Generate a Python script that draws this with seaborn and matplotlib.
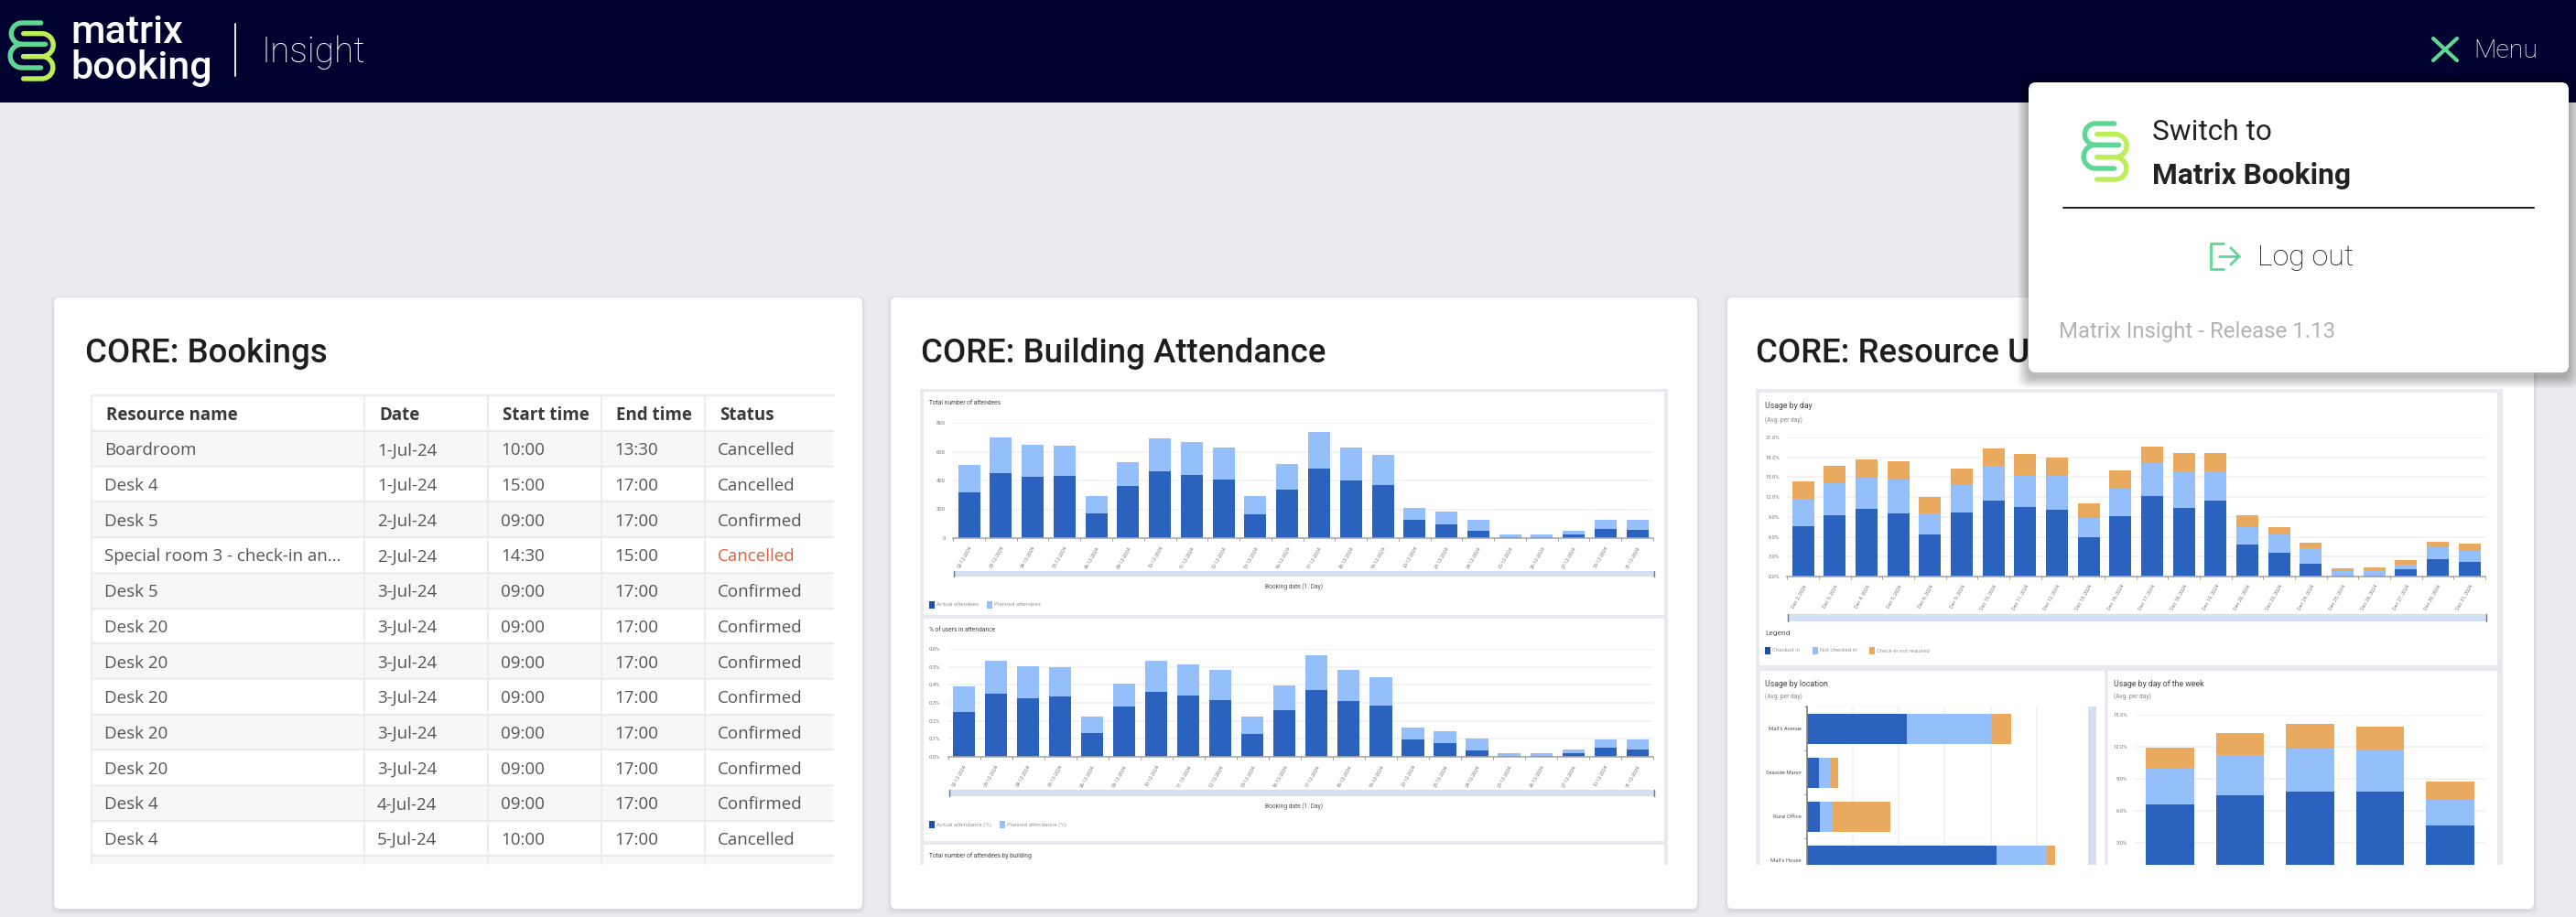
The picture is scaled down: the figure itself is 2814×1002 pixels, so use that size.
import numpy as np
import matplotlib
matplotlib.use("Agg")
import matplotlib.pyplot as plt
import seaborn as sns
from matplotlib.patches import FancyBboxPatch, Rectangle

W, H = 2814, 1002

# Table data
table_columns = ["Resource name", "Date", "Start time", "End time", "Status"]
resource_names = ["Boardroom", "Desk 4", "Desk 5", "Special room 3 - check-in an...", "Desk 5", "Desk 20",
                  "Desk 20", "Desk 20", "Desk 20", "Desk 20", "Desk 4", "Desk 4"]
booking_dates = ["1-Jul-24", "1-Jul-24", "2-Jul-24", "2-Jul-24", "3-Jul-24", "3-Jul-24",
                 "3-Jul-24", "3-Jul-24", "3-Jul-24", "3-Jul-24", "4-Jul-24", "5-Jul-24"]
start_times = ["10:00", "15:00", "09:00", "14:30", "09:00", "09:00", "09:00", "09:00", "09:00", "09:00", "09:00", "10:00"]
end_times = ["13:30", "17:00", "17:00", "15:00", "17:00", "17:00", "17:00", "17:00", "17:00", "17:00", "17:00", "17:00"]
statuses = ["Cancelled", "Cancelled", "Confirmed", "Cancelled", "Confirmed", "Confirmed",
            "Confirmed", "Confirmed", "Confirmed", "Confirmed", "Confirmed", "Cancelled"]

# Shared day labels
day_numbers = [2, 3, 4, 5, 6, 9, 10, 11, 12, 13, 16, 17, 18, 19, 20, 23, 24, 25, 26, 27, 30, 31]
dates_numeric = [f"{d:02d}-12-2024" for d in day_numbers]
dates_long = [f"Dec {d}, 2024" for d in day_numbers]

# Total number of attendees
actual_attendees = [320, 452, 424, 431, 172, 363, 465, 439, 407, 168, 335, 484, 403, 371, 127, 98, 51, 6, 6, 25, 66, 55]
planned_attendees = [185, 244, 225, 212, 121, 163, 227, 225, 219, 125, 181, 250, 223, 204, 85, 84, 78, 22, 22, 28, 61, 72]

# % of users in attendance
actual_pct = [0.248, 0.350, 0.326, 0.334, 0.132, 0.280, 0.362, 0.340, 0.314, 0.128, 0.258, 0.372, 0.310, 0.286, 0.098, 0.074, 0.038, 0.004, 0.004, 0.018, 0.050, 0.040]
planned_pct = [0.142, 0.186, 0.178, 0.162, 0.094, 0.126, 0.174, 0.172, 0.170, 0.098, 0.138, 0.194, 0.174, 0.156, 0.064, 0.068, 0.062, 0.014, 0.016, 0.022, 0.048, 0.058]

# Usage by day
checked_in = [7.66, 9.32, 10.29, 9.60, 6.37, 9.65, 11.49, 10.48, 10.11, 5.91, 9.14, 12.14, 10.38, 11.40, 4.89, 3.60, 1.98, 0.14, 0.14, 1.15, 2.63, 2.17]
not_checked_in = [4.02, 4.76, 4.66, 5.08, 3.18, 4.10, 5.17, 4.89, 5.12, 3.00, 4.11, 5.03, 5.45, 4.48, 2.59, 2.95, 2.27, 0.69, 0.78, 0.65, 1.80, 1.66]
not_required = [2.63, 2.63, 2.77, 2.72, 2.45, 2.50, 2.72, 3.18, 2.77, 2.12, 2.72, 2.49, 2.77, 2.72, 1.75, 0.97, 0.92, 0.46, 0.51, 0.74, 0.88, 1.15]

# Usage by location
locations = ["Mall's Avenue", "Seaside Manor", "Rural Office", "Mall's House"]
loc_checked = [10.87, 1.36, 1.47, 20.60]
loc_not_checked = [9.18, 1.30, 1.41, 5.49]
loc_not_required = [2.17, 0.82, 6.25, 0.91]

# Usage by day of the week
weekdays = ["Mon", "Tue", "Wed", "Thu", "Fri"]
week_checked = [6.62, 7.50, 7.85, 7.85, 4.64]
week_not_checked = [3.40, 3.78, 4.01, 3.89, 2.38]
week_not_required = [1.92, 2.01, 2.29, 2.21, 1.74]

DARK = "#2B62BD"
LIGHT = "#95BFFA"
ORANGE = "#E9AA5F"
NAVY = "#00022F"
BG = "#EBEBEF"
FRAME = "#E9EAF0"
GREEN = "#5FD694"
LIME = "#BCEE57"
GREY_TXT = "#777777"

sns.set_theme(style="white")
plt.rcParams["font.family"] = ["Roboto", "DejaVu Sans"]

fig = plt.figure(figsize=(W / 100, H / 100), dpi=100, facecolor=BG)


def px_axes(x0, y0, x1, y1, zorder=1):
    return fig.add_axes([x0 / W, 1 - y1 / H, (x1 - x0) / W, (y1 - y0) / H], zorder=zorder)


def layer(zorder):
    a = fig.add_axes([0, 0, 1, 1], zorder=zorder)
    a.set_xlim(0, W)
    a.set_ylim(H, 0)
    a.axis("off")
    a.patch.set_alpha(0)
    return a


def rounded(a, x0, y0, x1, y1, r, **kw):
    a.add_patch(FancyBboxPatch((x0 + r, y0 + r), x1 - x0 - 2 * r, y1 - y0 - 2 * r,
                               boxstyle=f"round,pad={r},rounding_size={r}", linewidth=0, **kw))


def logo(a, x0, y0):
    # serpentine mark, units are 3x pixels
    def bar(points, color):
        pts = np.array(points)
        a.plot(x0 + (pts[:, 0] - 28) / 3, y0 + (pts[:, 1] - 63) / 3, color=color, lw=3.9,
               solid_capstyle="round", solid_joinstyle="round")

    def arc(cx, top, bottom, side):
        r = (bottom - top) / 2
        t = np.linspace(-np.pi / 2, np.pi / 2, 30)
        return list(zip(cx + side * r * np.cos(t), (top + bottom) / 2 + r * np.sin(t)))

    bar([(78, 110)] + arc(138, 110, 185, 1) + [(78, 185)], LIME)
    bar([(78, 185)] + arc(138, 185, 258, 1) + [(78, 258)], LIME)
    bar([(135, 75)] + arc(73, 75, 145, -1) + [(150, 145)], GREEN)
    bar([(73, 145)] + arc(73, 145, 222, -1) + [(135, 222)], GREEN)


def stacked(a, cats, series, colors, width=0.69, horizontal=False):
    # draw the running totals back to front so every segment stays visible
    totals = np.cumsum(np.array(series), axis=0)
    for vals, col in zip(totals[::-1], colors[::-1]):
        if horizontal:
            sns.barplot(x=vals, y=cats, color=col, saturation=1, width=width, ax=a, orient="h", linewidth=0)
        else:
            sns.barplot(x=cats, y=vals, color=col, saturation=1, width=width, ax=a, linewidth=0)


def column_chart(box, cats, series, colors, ymax, step, fmt):
    a = px_axes(*box)
    a.patch.set_alpha(0)
    stacked(a, cats, series, colors)
    a.set_xlim(-0.5, len(cats) - 0.5)
    a.set_ylim(0, ymax)
    ticks = np.arange(0, ymax + step / 2, step)
    a.set_yticks(ticks)
    a.set_yticklabels([fmt.format(t) for t in ticks], fontsize=4.2, color=GREY_TXT)
    a.grid(axis="y", color="#F1F1F3", lw=1.2)
    a.set_axisbelow(True)
    sns.despine(ax=a, left=True)
    a.spines["bottom"].set_color("#AAAAAA")
    a.spines["bottom"].set_linewidth(1.2)
    a.tick_params(axis="y", length=0, pad=6)
    a.set_xlabel("")
    a.set_ylabel("")
    return a


def rotate_dates(a, labels):
    a.set_xticks(range(len(labels)))
    a.set_xticklabels(labels, fontsize=3.9, color=GREY_TXT, rotation=60, ha="right", rotation_mode="anchor")
    # ticks sit on the band edges, labels on the band centres
    a.set_xticks(np.arange(len(labels) + 1) - 0.5, minor=True)
    a.tick_params(axis="x", which="major", length=0, pad=6)
    a.tick_params(axis="x", which="minor", length=2, width=0.7, color="#999999", bottom=True)


bg = layer(0)
top = layer(10)

# header
bg.add_patch(Rectangle((0, 0), W, 112, color=NAVY, lw=0))
logo(bg, 9, 21)
bg.text(77, 35, "matrix", color="white", fontsize=31, fontweight="medium", va="center", ha="left")
bg.text(77, 74, "booking", color="white", fontsize=31, fontweight="medium", va="center", ha="left")
bg.plot([257, 257], [26, 83], color="white", lw=1.3)
bg.text(285, 57, "Insight", color="white", fontsize=28, fontweight="light", va="center", ha="left")
bg.plot([2658, 2684], [42, 66], color=GREEN, lw=3)
bg.plot([2658, 2684], [66, 42], color=GREEN, lw=3)
bg.text(2702, 55, "Menu", color="white", fontsize=20.5, fontweight="light", va="center", ha="left")

# cards
for x0, x1 in [(59, 942), (973, 1854), (1887, 2768)]:
    for i in range(4, 0, -1):
        rounded(bg, x0 - i, 325 - i + 2, x1 + i, 993 + i + 2, 6, color="black", alpha=0.016)
    rounded(bg, x0, 325, x1, 993, 6, color="white")
for x, title in [(93, "CORE: Bookings"), (1006, "CORE: Building Attendance"), (1918, "CORE: Resource Usage")]:
    bg.text(x, 387, title, fontsize=26.4, fontweight="medium", color="#1E1E1E", va="center", ha="left")

# bookings table
col_x = [100, 398, 533, 657, 770]
table_right = 910
table_bottom = 944
head_top, head_bot, row_h = 432, 471, 38.7
for i in range(13):
    y = head_bot + i * row_h
    if i % 2 == 0:
        bg.add_patch(Rectangle((col_x[0], y), table_right - col_x[0], min(row_h, table_bottom - y), color="#F7F7F7", lw=0))
    bg.plot([col_x[0], table_right], [y, y], color="#EBEBEB", lw=1.6)
bg.plot([col_x[0], table_right], [head_top, head_top], color="#EBEBEB", lw=1.6)
for x in col_x:
    bg.plot([x, x], [head_top, table_bottom], color="#EBEBEB", lw=1.3)
for x, name in zip(col_x, table_columns):
    bg.text(x + 16, (head_top + head_bot) / 2 + 2.5, name, fontsize=13.5, fontweight="bold", color="#3A3A3A",
            family=["Open Sans", "DejaVu Sans"], va="center", ha="left")
for i in range(len(resource_names)):
    y = head_bot + (i + 0.5) * row_h + 2
    row = [resource_names[i], booking_dates[i], start_times[i], end_times[i], statuses[i]]
    for x, val in zip(col_x, row):
        col = "#555555"
        if i == 3 and val == "Cancelled":
            col = "#D9603A"
        bg.text(x + 14, y, val, fontsize=13.5, color=col, family=["Open Sans", "DejaVu Sans"], va="center", ha="left")

# chart panels
bg.add_patch(Rectangle((1005, 425), 817, 520, color=FRAME, lw=0))
bg.add_patch(Rectangle((1009, 428), 809, 244, color="white", lw=0))
bg.add_patch(Rectangle((1009, 676), 809, 243, color="white", lw=0))
bg.add_patch(Rectangle((1009, 923), 809, 22, color="white", lw=0))
bg.add_patch(Rectangle((1918, 425), 816, 520, color=FRAME, lw=0))
bg.add_patch(Rectangle((1922, 429), 806, 298, color="white", lw=0))
bg.add_patch(Rectangle((1923, 733), 376, 212, color="white", lw=0))
bg.add_patch(Rectangle((2303, 733), 425, 212, color="white", lw=0))

SMALL = 4.8
bg.text(1015, 441, "Total number of attendees", fontsize=SMALL, color="#444444", va="center")
bg.text(1015, 689, "% of users in attendance", fontsize=SMALL, color="#444444", va="center")
bg.text(1015, 935, "Total number of attendees by building", fontsize=SMALL, color="#444444", va="center")
bg.text(1414, 641, "Booking date (1. Day)", fontsize=SMALL, color="#555555", va="center", ha="center")
bg.text(1414, 881, "Booking date (1. Day)", fontsize=SMALL, color="#555555", va="center", ha="center")
bg.text(1928, 444, "Usage by day", fontsize=6.3, color="#444444", va="center")
bg.text(1928, 459, "(Avg. per day)", fontsize=4.8, color="#888888", va="center")
bg.text(1928, 692, "Legend", fontsize=6, color="#555555", va="center")
bg.text(1928, 747, "Usage by location", fontsize=6.3, color="#444444", va="center")
bg.text(1928, 761, "(Avg. per day)", fontsize=4.8, color="#888888", va="center")
bg.text(2309, 747, "Usage by day of the week", fontsize=6.3, color="#444444", va="center")
bg.text(2309, 761, "(Avg. per day)", fontsize=4.8, color="#888888", va="center")


def legend_row(y, items):
    for x, col, label in items:
        bg.add_patch(Rectangle((x, y - 4), 5.5, 8, color=col, lw=0))
        bg.text(x + 8, y, label, fontsize=4.4, color="#999999", va="center")


legend_row(661, [(1015, "#1E4FB0", "Actual attendees"), (1078, LIGHT, "Planned attendees")])
legend_row(901, [(1015, "#1E4FB0", "Actual attendance (%)"), (1092, LIGHT, "Planned attendance (%)")])
legend_row(711, [(1928, "#1E4FB0", "Checked in"), (1980, LIGHT, "Not checked in"), (2042, ORANGE, "Check-in not required")])

# range sliders
for x0, y0, x1, y1 in [(1042, 624, 1807, 630), (1037, 863, 1807, 870), (1953, 671, 2716, 679)]:
    bg.add_patch(Rectangle((x0, y0), x1 - x0, y1 - y0, color="#D3E0F1", lw=0))
    bg.plot([x0, x0], [y0, y1], color="#667788", lw=1)
    bg.plot([x1, x1], [y0, y1], color="#667788", lw=1)
bg.add_patch(Rectangle((2281, 772), 9, 173, color="#D3E0F1", lw=0))

# bar charts
ax1 = column_chart((1041.2, 462, 1806, 588), dates_numeric, [actual_attendees, planned_attendees], [DARK, LIGHT], 800, 200, "{:.0f}")
rotate_dates(ax1, dates_numeric)

ax2 = column_chart((1035.5, 709, 1806.2, 827), dates_numeric, [actual_pct, planned_pct], [DARK, LIGHT], 0.6, 0.1, "{:.1f}%")
rotate_dates(ax2, dates_numeric)

ax3 = column_chart((1952.4, 478, 2714.9, 630), dates_long, [checked_in, not_checked_in, not_required], [DARK, LIGHT, ORANGE], 21, 3, "{:.1f}%")
rotate_dates(ax3, dates_long)

ax4 = px_axes(1973.5, 772.4, 2275, 945)
ax4.patch.set_alpha(0)
stacked(ax4, locations, [loc_checked, loc_not_checked, loc_not_required], [DARK, LIGHT, ORANGE], horizontal=True)
ax4.set_xlim(0, 30)
ax4.set_ylim(3.1, -0.5)
ax4.set_xticks([5, 10, 15, 20, 25])
ax4.set_xticklabels([])
ax4.grid(axis="x", color="#F1F1F3", lw=1.2)
ax4.set_axisbelow(True)
sns.despine(ax=ax4, bottom=True)
ax4.spines["left"].set_color("#888888")
ax4.set_yticks(np.arange(4) - 0.5, minor=True)
ax4.tick_params(axis="y", which="major", labelsize=4.2, labelcolor="#555555", length=0, pad=4)
ax4.tick_params(axis="y", which="minor", length=2, width=0.7, color="#888888", left=True)
ax4.tick_params(axis="x", length=0)
ax4.set_xlabel("")
ax4.set_ylabel("")

ax5 = column_chart((2332.3, 781.3, 2714.8, 956), weekdays, [week_checked, week_not_checked, week_not_required], [DARK, LIGHT, ORANGE], 15, 3, "{:.1f}%")
ax5.set_xticks([])
sns.despine(ax=ax5, left=True, bottom=True)

# clip the screenshots at their bottom edge
top.add_patch(Rectangle((1000, 945), 830, 40, color="white", lw=0))
top.add_patch(Rectangle((1910, 945), 830, 40, color="white", lw=0))

# popup menu
for i in range(12, 0, -1):
    rounded(top, 2216 - i, 90 - i + 5, 2806 + i, 407 + i + 5, 10, color="black", alpha=0.022)
rounded(top, 2216, 90, 2806, 407, 8, color="white")
logo(top, 2274, 131)
top.text(2351, 144, "Switch to", fontsize=22.8, color="#222222", va="center", ha="left")
top.text(2351, 192, "Matrix Booking", fontsize=22.9, fontweight="bold", color="#222222", va="center", ha="left")
top.plot([2254, 2768], [227, 227], color="#222222", lw=1.45)
top.plot([2429, 2415, 2415, 2429], [266, 266, 294, 294], color=GREEN, lw=2, solid_joinstyle="round")
top.plot([2424, 2446], [280, 280], color=GREEN, lw=2)
top.plot([2437, 2446, 2437], [271, 280, 289], color=GREEN, lw=2)
top.text(2466, 282, "Log out", fontsize=23.2, fontweight="light", color="#111111", va="center", ha="left")
top.text(2249, 362, "Matrix Insight - Release 1.13", fontsize=17.3, color="#B3B3B3", va="center", ha="left")

plt.savefig("out.png", dpi=100, facecolor=BG)
